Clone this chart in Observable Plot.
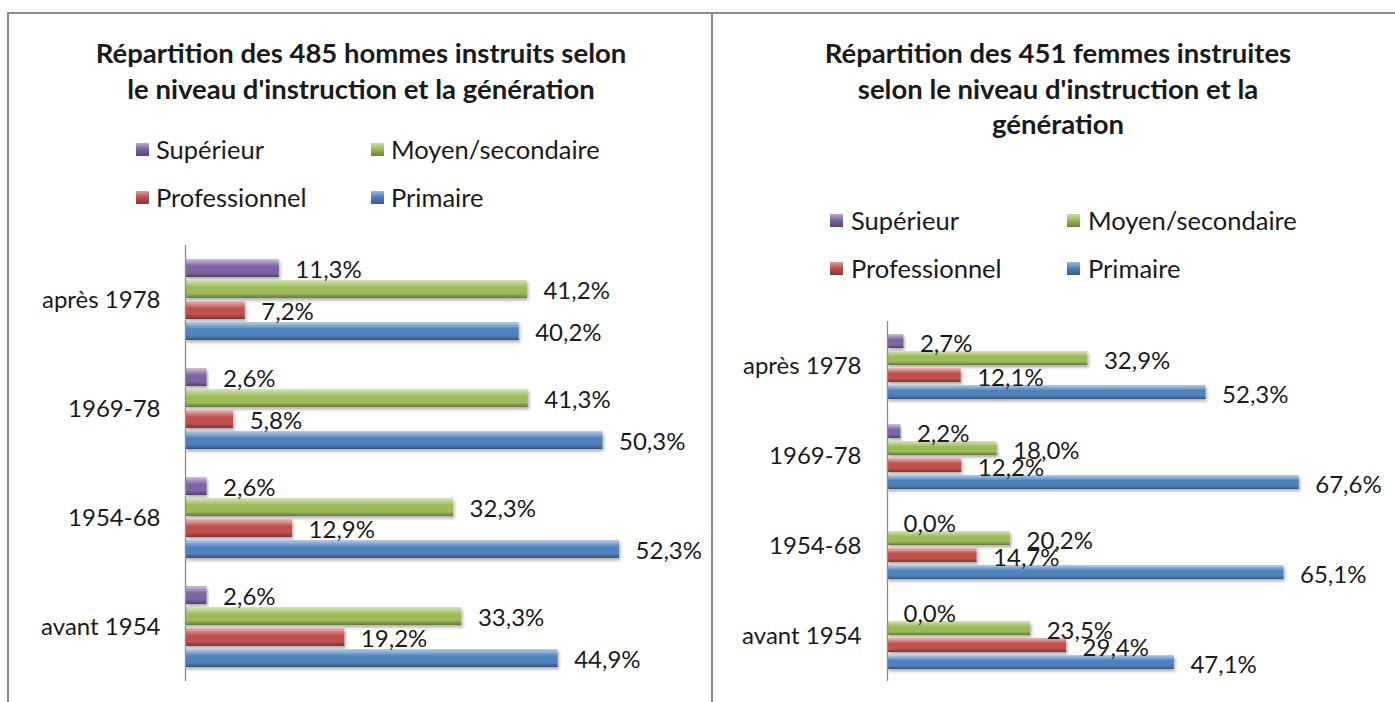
<!DOCTYPE html>
<html><head><meta charset="utf-8">
<script src="https://cdn.jsdelivr.net/npm/d3@7"></script>
<script src="https://cdn.jsdelivr.net/npm/@observablehq/plot@0.6"></script>
<style>
body{margin:0;background:#fff;font-family:Lato, sans-serif;color:#1a1a1a}
#root{position:relative;width:1395px;height:702px;overflow:hidden;background:#fff}
.line{position:absolute;background:#8c8c8c}
.title{position:absolute;font-weight:bold;font-size:27.5px;line-height:35.5px;text-align:center;white-space:nowrap}
.leg{position:absolute;font-size:25.5px;line-height:26px;white-space:nowrap}
.sw{position:absolute;width:13px;height:13px}
.chart{position:absolute}
</style></head>
<body><div id="root"></div>
<script>
// ---- data ----
const generations = ["après 1978", "1969-78", "1954-68", "avant 1954"];
const levels = ["Supérieur", "Moyen/secondaire", "Professionnel", "Primaire"];
const hommesSuperieur = [11.3, 2.6, 2.6, 2.6];
const hommesMoyen = [41.2, 41.3, 32.3, 33.3];
const hommesPro = [7.2, 5.8, 12.9, 19.2];
const hommesPrimaire = [40.2, 50.3, 52.3, 44.9];
const femmesSuperieur = [2.7, 2.2, 0.0, 0.0];
const femmesMoyen = [32.9, 18.0, 20.2, 23.5];
const femmesPro = [12.1, 12.2, 14.7, 29.4];
const femmesPrimaire = [52.3, 67.6, 65.1, 47.1];
const titleHommes = ["Répartition des 485 hommes instruits selon", "le niveau d'instruction  et la génération"];
const titleFemmes = ["Répartition des 451 femmes instruites", "selon le niveau d'instruction et la", "génération"];

// ---- styles ----
const colors = ["#8064A2", "#9BBB59", "#C0504D", "#4F81BD"];
const fmt = v => v.toFixed(1).replace(".", ",") + "%";
const lighten = (c, t) => d3.interpolateRgb(c, "#ffffff")(t);
const darken = (c, t) => d3.interpolateRgb(c, "#000000")(t);

function table(series) {
  return generations.flatMap((g, i) => levels.map((l, j) => ({generation: g, level: l, value: series[j][i]})));
}

const root = document.getElementById("root");
function div(cls, css) {
  const e = document.createElement("div");
  e.className = cls;
  Object.assign(e.style, css);
  root.appendChild(e);
  return e;
}

// frame lines
div("line", {left: "7px", top: "12px", width: "1388px", height: "2px"});
div("line", {left: "7px", top: "12px", width: "2px", height: "690px"});
div("line", {left: "711px", top: "12px", width: "2px", height: "690px"});

function title(lines, cx) {
  const e = div("title", {left: (cx - 340) + "px", width: "680px", top: "35px"});
  lines.forEach((t, i) => {
    if (i) e.appendChild(document.createElement("br"));
    e.appendChild(document.createTextNode(t));
  });
}
title(titleHommes, 361);
title(titleFemmes, 1058);

function legend(x1, x2, y1, y2, gap) {
  const pos = [[x1, y1], [x2, y1], [x1, y2], [x2, y2]];
  levels.forEach((l, j) => {
    const [x, y] = pos[j];
    const c = colors[j];
    div("sw", {left: x + "px", top: (y - 6) + "px",
      background: `linear-gradient(${lighten(c, 0.45)} 0%, ${c} 45%, ${darken(c, 0.3)} 100%)`});
    const t = div("leg", {left: (x + gap) + "px", top: (y - 13) + "px"});
    t.textContent = l;
  });
}
legend(136, 371, 149, 197, 20);
legend(830, 1067, 220, 268, 21);

function addDefs(svg, prefix) {
  const defs = d3.select(svg).insert("defs", ":first-child");
  colors.forEach((c, j) => {
    const g = defs.append("linearGradient").attr("id", prefix + j)
      .attr("x1", 0).attr("y1", 0).attr("x2", 0).attr("y2", 1);
    [[0, lighten(c, 0.6)], [0.2, lighten(c, 0.3)], [0.4, c], [0.75, c], [1, darken(c, 0.35)]]
      .forEach(([o, col]) => g.append("stop").attr("offset", o).attr("stop-color", col));
  });
  const f = defs.append("filter").attr("id", prefix + "sh")
    .attr("x", "-5%").attr("y", "-20%").attr("width", "115%").attr("height", "170%");
  f.append("feDropShadow").attr("dx", 1.5).attr("dy", 2.5).attr("stdDeviation", 1.5)
    .attr("flood-color", "#000").attr("flood-opacity", 0.3);
  d3.select(svg).selectAll('g[aria-label="bar"] rect').attr("filter", `url(#${prefix}sh)`);
}

function chart(series, prefix, o) {
  const data = table(series);
  const svg = Plot.plot({
    width: o.width, height: o.height,
    marginLeft: o.ml, marginRight: 0, marginTop: 0, marginBottom: 0,
    style: {fontFamily: "Lato, sans-serif", fontSize: "24px", color: "#1a1a1a", background: "transparent", overflow: "visible"},
    x: {domain: [0, o.xmax], axis: null},
    y: {domain: levels, axis: null, paddingInner: o.pi, paddingOuter: o.po},
    fy: {domain: generations, padding: 0, label: null, axis: "left", tickSize: 0, tickPadding: o.tp},
    color: {domain: levels, range: levels.map((l, j) => `url(#${prefix}${j})`)},
    marks: [
      Plot.barX(data, {x1: 0, x2: "value", y: "level", fy: "generation", fill: "level"}),
      Plot.ruleX([0], {stroke: "#8c8c8c", strokeWidth: 1.3}),
      Plot.text(data, {x: "value", y: "level", fy: "generation", text: d => fmt(d.value),
        textAnchor: "start", dx: 16, dy: o.dy, fill: "#1a1a1a", fontSize: 24})
    ]
  });
  addDefs(svg, prefix);
  const wrap = div("chart", {left: o.left + "px", top: o.top + "px"});
  wrap.appendChild(svg);
}

chart([hommesSuperieur, hommesMoyen, hommesPro, hommesPrimaire], "gh",
  {left: 0, top: 245, width: 700, height: 436, ml: 185, xmax: 62.05, pi: 0.15, po: 0.6, tp: 25, dy: 2});
chart([femmesSuperieur, femmesMoyen, femmesPro, femmesPrimaire], "gf",
  {left: 700, top: 320, width: 695, height: 362, ml: 187, xmax: 83.4, pi: 0.18, po: 0.6, tp: 26, dy: 3});
</script>
</body></html>
